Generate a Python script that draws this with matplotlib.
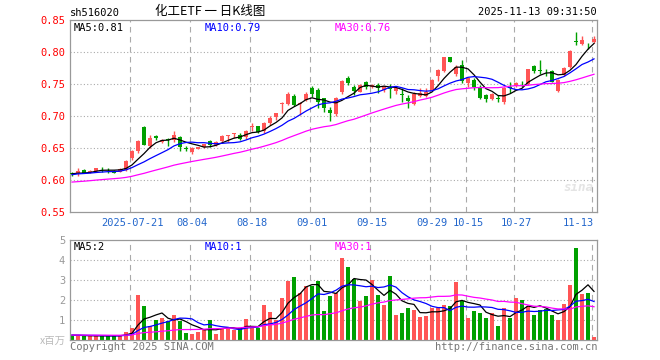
import numpy as np
import pandas as pd
import matplotlib
matplotlib.use("Agg")
import matplotlib.pyplot as plt

# daily candles, 2025-07-07 .. 2025-11-13
opens = [0.611, 0.6105, 0.6158, 0.612, 0.614, 0.6178, 0.616, 0.6147, 0.613, 0.6158,
         0.634, 0.6447, 0.683, 0.6526, 0.668, 0.659, 0.6645, 0.663, 0.667, 0.6505,
         0.6443, 0.649, 0.651, 0.661, 0.655, 0.661, 0.6695, 0.6725, 0.670, 0.667,
         0.683, 0.684, 0.676, 0.6896, 0.699, 0.7195, 0.718, 0.732, 0.719, 0.725,
         0.744, 0.741, 0.728, 0.7093, 0.7026, 0.737, 0.760, 0.746, 0.738, 0.753,
         0.745, 0.748, 0.7406, 0.746, 0.739, 0.735, 0.728, 0.718, 0.732, 0.732,
         0.7406, 0.763, 0.770, 0.792, 0.765, 0.780, 0.752, 0.756, 0.743, 0.7328,
         0.726, 0.7275, 0.7224, 0.7455, 0.747, 0.7515, 0.750, 0.778, 0.772, 0.771,
         0.771, 0.7395, 0.764, 0.776, 0.8165, 0.8125, 0.8125, 0.8155]
highs = [0.613, 0.618, 0.617, 0.616, 0.6195, 0.621, 0.6195, 0.6158, 0.618, 0.6305,
         0.647, 0.662, 0.684, 0.671, 0.671, 0.664, 0.665, 0.677, 0.668, 0.6532,
         0.651, 0.652, 0.657, 0.662, 0.6605, 0.670, 0.670, 0.674, 0.674, 0.678,
         0.6885, 0.685, 0.690, 0.700, 0.705, 0.7224, 0.737, 0.734, 0.722, 0.737,
         0.747, 0.743, 0.728, 0.714, 0.730, 0.757, 0.763, 0.748, 0.7505, 0.755,
         0.750, 0.752, 0.7475, 0.7495, 0.746, 0.743, 0.733, 0.737, 0.744, 0.743,
         0.758, 0.774, 0.792, 0.792, 0.780, 0.787, 0.760, 0.759, 0.749, 0.7344,
         0.7355, 0.7328, 0.746, 0.7536, 0.7536, 0.755, 0.774, 0.780, 0.7875, 0.773,
         0.772, 0.7572, 0.777, 0.803, 0.831, 0.825, 0.8135, 0.8245]
lows = [0.607, 0.606, 0.6105, 0.611, 0.6126, 0.6126, 0.6105, 0.6105, 0.612, 0.6147,
        0.6316, 0.6421, 0.654, 0.650, 0.663, 0.658, 0.6537, 0.660, 0.646, 0.6448,
        0.641, 0.648, 0.650, 0.652, 0.653, 0.658, 0.660, 0.665, 0.6625, 0.664,
        0.677, 0.674, 0.673, 0.686, 0.694, 0.704, 0.717, 0.716, 0.702, 0.7235,
        0.729, 0.713, 0.706, 0.692, 0.7005, 0.735, 0.748, 0.733, 0.737, 0.742,
        0.744, 0.736, 0.738, 0.7286, 0.735, 0.722, 0.712, 0.717, 0.730, 0.730,
        0.739, 0.754, 0.769, 0.784, 0.763, 0.751, 0.746, 0.741, 0.7265, 0.7224,
        0.725, 0.7224, 0.7187, 0.7364, 0.7458, 0.746, 0.7485, 0.7667, 0.7656, 0.7625,
        0.7536, 0.738, 0.7625, 0.7745, 0.811, 0.811, 0.804, 0.8145]
closes = [0.609, 0.6147, 0.6116, 0.6147, 0.618, 0.617, 0.6155, 0.6116, 0.617, 0.629,
          0.6447, 0.6605, 0.655, 0.6658, 0.665, 0.663, 0.6625, 0.670, 0.652, 0.648,
          0.650, 0.651, 0.656, 0.655, 0.659, 0.669, 0.670, 0.674, 0.664, 0.677,
          0.685, 0.675, 0.689, 0.6963, 0.704, 0.7205, 0.734, 0.717, 0.721, 0.735,
          0.735, 0.722, 0.712, 0.705, 0.7286, 0.7547, 0.751, 0.739, 0.749, 0.746,
          0.749, 0.743, 0.7463, 0.742, 0.743, 0.733, 0.7234, 0.735, 0.7364, 0.737,
          0.756, 0.772, 0.792, 0.785, 0.777, 0.755, 0.759, 0.746, 0.7275, 0.726,
          0.7344, 0.726, 0.743, 0.744, 0.752, 0.751, 0.773, 0.771, 0.7708, 0.770,
          0.7536, 0.7562, 0.7755, 0.8016, 0.815, 0.818, 0.812, 0.820]
volumes = [0.2, 0.22, 0.2, 0.2, 0.22, 0.2, 0.2, 0.2, 0.25, 0.42,
           0.62, 2.25, 1.7, 0.7, 1.0, 1.1, 0.95, 1.25, 0.95, 0.35,
           0.3, 0.4, 0.55, 1.0, 0.3, 0.6, 0.65, 0.5, 0.6, 1.05,
           0.6, 0.6, 1.75, 1.4, 1.0, 2.1, 2.95, 3.15, 2.35, 2.7,
           2.7, 2.95, 1.45, 2.2, 2.33, 4.12, 3.67, 3.05, 1.95, 2.2,
           3.0, 2.25, 1.75, 3.2, 1.25, 1.35, 1.6, 1.5, 1.15, 1.2,
           1.6, 1.6, 1.75, 1.7, 2.9, 1.95, 1.1, 1.45, 1.35, 1.1,
           1.35, 0.7, 1.6, 1.1, 2.1, 2.0, 1.7, 1.25, 1.5, 1.55,
           1.25, 1.0, 1.8, 2.75, 4.6, 2.3, 2.35, 0.15]

# closes / volumes before the visible window (only feed the moving averages)
prev_close = [0.594, 0.592, 0.590, 0.591, 0.593, 0.592, 0.591, 0.593, 0.594, 0.592,
              0.590, 0.588, 0.587, 0.589, 0.590, 0.588, 0.589, 0.591, 0.592, 0.594,
              0.602, 0.606, 0.608, 0.609, 0.610, 0.609, 0.611, 0.610, 0.609]
prev_volume = [0.25] * 29

tick_dates = ["2025-07-21", "2025-08-04", "2025-08-18", "2025-09-01", "2025-09-15",
              "2025-09-29", "2025-10-15", "2025-10-27", "2025-11-13"]
tick_labels = ["2025-07-21", "08-04", "08-18", "09-01", "09-15",
               "09-29", "10-15", "10-27", "11-13"]
ma_price_text = ["MA5:0.81", "MA10:0.79", "MA30:0.76"]
ma_vol_text = ["MA5:2", "MA10:1", "MA30:1"]

holidays = pd.to_datetime(["2025-10-01", "2025-10-02", "2025-10-03",
                           "2025-10-06", "2025-10-07", "2025-10-08"])
days = pd.bdate_range("2025-07-07", "2025-11-13")
days = days[~days.isin(holidays)]

RED = "#ff5555"
GREEN = "#00a000"
MONO = "DejaVu Sans Mono"
plt.rcParams["font.family"] = [MONO, "Noto Sans CJK SC"]

n = len(closes)
x = np.arange(n)
o = np.array(opens); c = np.array(closes)
h = np.array(highs); l = np.array(lows)
up = c >= o
colors = [RED if u else GREEN for u in up]

allc = pd.Series(prev_close + closes)
allv = pd.Series(prev_volume + volumes)
k = len(prev_close)
ma = {w: allc.rolling(w).mean().values[k:] for w in (5, 10, 30)}
vma = {w: allv.rolling(w).mean().values[k:] for w in (5, 10, 30)}
ma_colors = {5: "black", 10: "#0000ff", 30: "#ff00ff"}

fig = plt.figure(figsize=(6.6, 3.6), dpi=100)
ax = fig.add_axes([70 / 660, 1 - 212 / 360, 527 / 660, 192 / 360])
axv = fig.add_axes([70 / 660, 1 - 340 / 360, 527 / 660, 100 / 360])

tick_idx = [int(np.where(days == pd.Timestamp(d))[0][0]) for d in tick_dates]

for a in (ax, axv):
    a.set_xlim(-1 / 3, n - 0.5)
    for s in a.spines.values():
        s.set_color("#999999")
        s.set_linewidth(0.9)
    for t in tick_idx:
        a.axvline(t - 0.35, color="#aaaaaa", lw=0.8, ls=(0, (5, 4)), zorder=0)
    a.tick_params(length=0, labelsize=7.5)

# price panel
ax.set_ylim(0.55, 0.85)
ax.set_yticks(np.arange(0.55, 0.851, 0.05))
ax.set_yticklabels([f"{v:.2f}" for v in np.arange(0.55, 0.851, 0.05)], color="red")
for v in np.arange(0.60, 0.81, 0.05):
    ax.axhline(v, color="#aaaaaa", lw=0.8, ls=(0, (1, 2)), zorder=0)
ax.vlines(x, l, h, colors=colors, lw=1, zorder=2)
body = np.maximum(np.abs(c - o), 0.0009)
ax.bar(x, body, bottom=np.minimum(o, c), width=0.72, color=colors, zorder=3)
for w in (5, 10, 30):
    ax.plot(x, ma[w], color=ma_colors[w], lw=0.9, zorder=4)
ax.set_xticks(tick_idx)
labels = ax.set_xticklabels(tick_labels, color="#2266cc")
labels[-1].set_horizontalalignment("right")
labels[-1].set_x(n - 0.5)
ax.tick_params(axis="x", pad=4)
for txt, xp, col in zip(ma_price_text, (74, 205, 335), ("black", "#0000ff", "#ff00ff")):
    fig.text(xp / 660, 1 - 28 / 360, txt, fontsize=7.5, color=col, va="center")
ax.text(0.965, 0.13, "sina", transform=ax.transAxes, fontsize=9, color="#e4e4e4",
        ha="center", va="center", style="italic", weight="bold", zorder=1)

# volume panel
axv.set_ylim(0, 5)
axv.set_yticks([1, 2, 3, 4, 5])
axv.set_yticklabels(["1", "2", "3", "4", "5"], color="#999999")
axv.set_xticks([])
for v in (1, 2, 3, 4):
    axv.axhline(v, color="#aaaaaa", lw=0.8, ls=(0, (1, 2)), zorder=0)
axv.bar(x, volumes, width=0.75, color=colors, zorder=2)
for w in (5, 10, 30):
    axv.plot(x, vma[w], color=ma_colors[w], lw=0.9, zorder=4)
for txt, xp, col in zip(ma_vol_text, (74, 205, 335), ("black", "#0000ff", "#ff00ff")):
    fig.text(xp / 660, 1 - 247 / 360, txt, fontsize=7.5, color=col, va="center")

# header / footer
fig.text(70 / 660, 1 - 13 / 360, "sh516020", fontsize=7.5, va="center")
fig.text(210 / 660, 1 - 12 / 360, "化工ETF 一 日K线图", fontsize=9, va="center", ha="center",
         family=["Noto Sans CJK SC", MONO])
fig.text(597 / 660, 1 - 12 / 360, "2025-11-13 09:31:50", fontsize=7.5, va="center", ha="right")
fig.text(70 / 660, 1 - 347 / 360, "Copyright 2025 SINA.COM", fontsize=7.5, va="center",
         color="#777777")
fig.text(597 / 660, 1 - 347 / 360, "http://finance.sina.com.cn", fontsize=7.5, va="center",
         ha="right", color="#777777")
fig.text(66 / 660, 1 - 341 / 360, "x百万", fontsize=7.5, va="center", ha="right",
         color="#bbbbbb", family=["Noto Sans CJK SC", MONO])

fig.savefig("out.png", dpi=100)
